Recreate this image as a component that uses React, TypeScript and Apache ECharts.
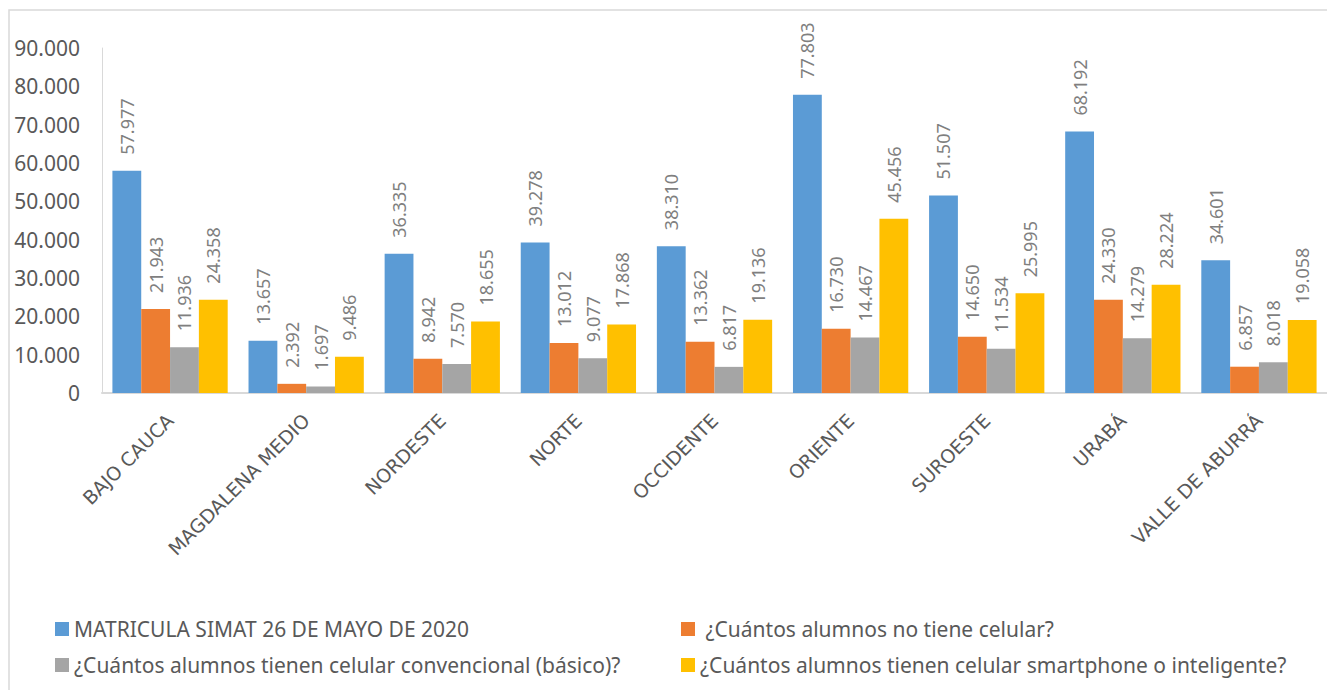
import React, { useEffect, useRef } from "react";
import * as echarts from "echarts";

const categories = [
  "BAJO CAUCA",
  "MAGDALENA MEDIO",
  "NORDESTE",
  "NORTE",
  "OCCIDENTE",
  "ORIENTE",
  "SUROESTE",
  "URABÁ",
  "VALLE DE ABURRÁ",
];

const seriesNames = [
  "MATRICULA SIMAT 26 DE MAYO DE 2020",
  " ¿Cuántos alumnos no tiene celular?",
  "¿Cuántos alumnos tienen celular convencional (básico)?",
  "¿Cuántos alumnos tienen celular smartphone o inteligente?",
];

const matricula = [57977, 13657, 36335, 39278, 38310, 77803, 51507, 68192, 34601];
const noCelular = [21943, 2392, 8942, 13012, 13362, 16730, 14650, 24330, 6857];
const convencional = [11936, 1697, 7570, 9077, 6817, 14467, 11534, 14279, 8018];
const smartphone = [24358, 9486, 18655, 17868, 19136, 45456, 25995, 28224, 19058];

const seriesColors = ["#5B9BD5", "#ED7D31", "#A5A5A5", "#FFC000"];

const fmt = (n: number) => String(Math.round(n)).replace(/\B(?=(\d{3})+(?!\d))/g, ".");

export default function App() {
  const ref = useRef<HTMLDivElement>(null);
  useEffect(() => {
    if (!ref.current) return;
    const chart = echarts.init(ref.current, undefined, { renderer: "svg" });
    const values = [matricula, noCelular, convencional, smartphone];
    const legendPos = [
      { left: 55, top: 617 },
      { left: 681, top: 617 },
      { left: 55, top: 653 },
      { left: 681, top: 653 },
    ];
    chart.setOption({
      animation: false,
      backgroundColor: "#ffffff",
      textStyle: { fontFamily: "Noto Sans" },
      graphic: [
        {
          type: "rect",
          shape: { x: 9, y: 10, width: 1400, height: 700 },
          style: { fill: "none", stroke: "#d9d9d9", lineWidth: 1.5 },
          silent: true,
          z: -10,
        },
      ],
      grid: { left: 102, top: 48, bottom: 297, right: -12, containLabel: false },
      legend: legendPos.map((p, i) => ({
        data: [seriesNames[i]],
        left: p.left,
        top: p.top,
        padding: 0,
        itemWidth: 14,
        itemHeight: 14,
        itemGap: 10,
        icon: "rect",
        textStyle: { fontSize: 21, color: "#595959", fontFamily: "Noto Sans", lineHeight: 24 },
      })),
      xAxis: {
        type: "category",
        data: categories,
        axisLine: { show: true, lineStyle: { color: "#d9d9d9", width: 2 } },
        axisTick: { show: false },
        axisLabel: {
          rotate: 45,
          interval: 0,
          margin: 24,
          fontSize: 19,
          color: "#595959",
          fontFamily: "DejaVu Sans",
        },
      },
      yAxis: {
        type: "value",
        min: 0,
        max: 90000,
        interval: 10000,
        splitLine: { show: false },
        axisLine: { show: true, lineStyle: { color: "#d9d9d9", width: 1 } },
        axisTick: { show: false },
        axisLabel: {
          margin: 22,
          fontSize: 21,
          color: "#595959",
          fontFamily: "Noto Sans",
          formatter: (v: number) => fmt(v),
        },
      },
      series: values.map((arr, i) => ({
        name: seriesNames[i],
        type: "bar",
        data: arr,
        barGap: "0%",
        barCategoryGap: "15.3%",
        itemStyle: { color: seriesColors[i] },
        label: {
          show: true,
          position: "top",
          rotate: 90,
          align: "left",
          verticalAlign: "middle",
          distance: 16,
          fontSize: 18,
          color: "#7f7f7f",
          fontFamily: "Noto Sans",
          formatter: (p: any) => fmt(p.value),
        },
      })),
    });
    return () => chart.dispose();
  }, []);
  return (
    <div
      ref={ref}
      style={{ position: "fixed", left: 0, top: 0, width: 1327, height: 690 }}
    />
  );
}
